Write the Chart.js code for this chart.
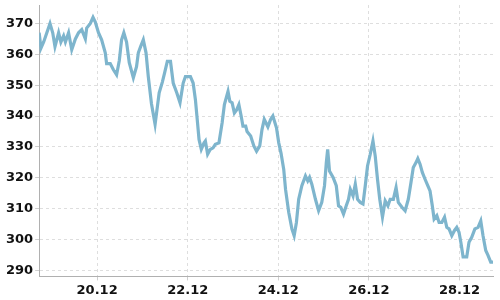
<!DOCTYPE html>
<html>
<head>
<meta charset="utf-8">
<script src="https://cdn.jsdelivr.net/npm/chart.js@4"></script>
<style>
html,body{margin:0;padding:0;background:#fff;}
#wrap{width:500px;height:300px;}
</style>
</head>
<body>
<div id="wrap"><canvas id="c" width="500" height="300"></canvas></div>
<script>
// time as day of December (fractional)
const times = [18.72,18.73,18.76,18.82,18.89,18.96,19.02,19.07,19.15,19.20,19.26,19.30,19.37,19.44,19.52,19.59,19.66,19.74,19.77,19.85,19.91,19.96,20.03,20.10,20.18,20.21,20.29,20.36,20.43,20.49,20.54,20.59,20.65,20.71,20.80,20.87,20.91,20.96,21.02,21.08,21.13,21.20,21.28,21.37,21.44,21.49,21.55,21.62,21.68,21.76,21.83,21.90,21.95,22.06,22.12,22.17,22.21,22.25,22.30,22.36,22.39,22.44,22.50,22.56,22.61,22.69,22.76,22.81,22.89,22.93,22.98,23.03,23.08,23.13,23.18,23.22,23.28,23.31,23.39,23.46,23.52,23.59,23.64,23.69,23.77,23.83,23.88,23.96,24.01,24.06,24.12,24.16,24.23,24.30,24.35,24.40,24.45,24.52,24.60,24.65,24.69,24.74,24.82,24.89,24.96,25.02,25.06,25.09,25.13,25.21,25.28,25.33,25.38,25.44,25.50,25.55,25.59,25.65,25.70,25.75,25.81,25.87,25.92,25.97,26.03,26.09,26.14,26.19,26.24,26.30,26.36,26.42,26.47,26.54,26.60,26.65,26.73,26.80,26.87,26.93,26.98,27.04,27.08,27.13,27.18,27.24,27.30,27.35,27.40,27.44,27.50,27.55,27.61,27.67,27.72,27.77,27.83,27.89,27.94,27.99,28.03,28.08,28.16,28.21,28.27,28.34,28.41,28.47,28.52,28.58,28.63,28.69,28.74];
const values = [367,367,362,364,367,370,367,362.5,367,364,366,364,367,361.5,365,367,368,365,368.5,370,372,370.5,367,364.7,360.5,357,357,355,353.4,358,364.7,367,364,357.3,352.4,356,360.5,362.5,364.7,360.5,352.8,344,337.3,347.5,351,354,357.7,357.7,350.7,347.5,344.3,350.7,352.8,352.8,350.7,345.3,338.9,332.4,329.2,331.3,331.9,327.6,329.2,329.7,330.8,331.3,337.8,343.7,348,344.8,344.3,341,342,343.7,340,336.7,336.7,335,333.5,330.3,328.6,330.3,335.6,338.9,336.5,338.9,340,336.2,331.3,328,322.7,316.2,308.8,303.4,301.2,305.5,313,317.4,320.6,319,320.1,317.9,313,309.3,312,317.4,324.9,329.2,322.2,320.1,317.4,310.9,310.4,308.2,310.9,313,316.2,314.1,317.9,313,312,311.5,317.4,323.8,327.6,331.9,327,319.5,313,307.2,312.5,310.9,313,313,316.8,312,310.4,309.3,313,318.5,323.3,324.9,326.2,324.4,321.7,319.5,317.4,315.7,310.9,306.6,307.7,305.5,305.5,307.2,303.9,303.4,301.2,302.9,303.9,302.3,299.1,294.3,294.3,299.1,300.7,303.4,303.9,306,301.2,296.4,294.8,292.6,292.6];
const tickDays = [20,22,24,26,28];
const yTicks = [290,300,310,320,330,340,350,360,370];

const pts = times.map((t,i)=>({x:t,y:values[i]}));
const tickFont = {family:'DejaVu Sans', size:13, weight:'bold'};

new Chart(document.getElementById('c'), {
  type:'line',
  data:{datasets:[{data:pts,borderColor:'#7eb5cd',borderWidth:3.2,pointRadius:0,tension:0,fill:false}]},
  options:{
    responsive:false,animation:false,
    layout:{padding:{left:4,top:5,right:7,bottom:0}},
    plugins:{legend:{display:false},tooltip:{enabled:false}},
    scales:{
      x:{type:'linear',min:18.72,max:28.74,
        afterBuildTicks:s=>{s.ticks=tickDays.map(v=>({value:v}));},
        afterFit:s=>{s.paddingLeft=0;s.paddingRight=0;},
        ticks:{font:tickFont,color:'#111',padding:2,maxRotation:0,callback:v=>v+'.12'},
        grid:{color:'#dedede',tickLength:4,tickColor:'#cfcfcf'},
        border:{color:'#b0b0b0',width:1,dash:[3,3]}},
      y:{min:288,max:376,
        afterBuildTicks:s=>{s.ticks=yTicks.map(v=>({value:v}));},
        afterFit:s=>{s.paddingTop=0;s.paddingBottom=0;},
        ticks:{font:tickFont,color:'#111',padding:2},
        grid:{color:'#dedede',tickLength:4,tickColor:'#cfcfcf'},
        border:{color:'#b0b0b0',width:1,dash:[3,3]}}
    }
  }
});
</script>
</body>
</html>
